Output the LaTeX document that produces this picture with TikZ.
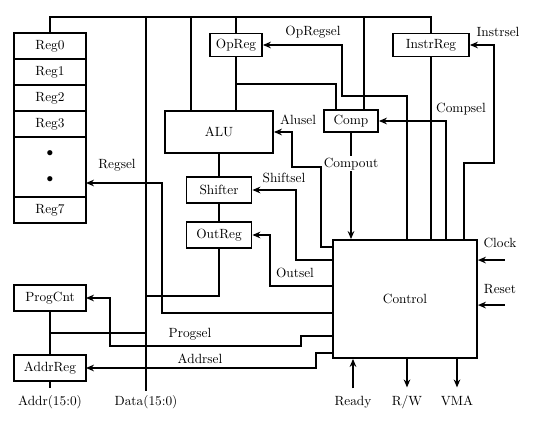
\documentclass[tikz,border=0pt]{standalone}
\usepackage{tikz}
\usetikzlibrary{positioning,arrows.meta,calc}
\tikzset{
    base/.style={font=\normalsize, align=center},
    block/.style={base, rectangle, draw, line width=1.4pt, inner sep=1pt},
    regcell/.style={block, outer sep=0pt, minimum width=54pt, minimum height=19.5pt},
    wire/.style={line width=1.4pt},
    sel/.style={wire, -{Stealth[length=6pt,width=5pt,inset=2pt]}},
    sigtext/.style={base, inner sep=1pt, text height=7pt, text depth=2pt}
}

\begin{document}
\begin{tikzpicture}[x=0.75pt, y=-0.75pt]
  \useasboundingbox (0,0) rectangle (542,432);

  % Register file
  \node[regcell] (reg0) at (50,46) {Reg0};
  \node[regcell, below=0pt of reg0] (reg1) {Reg1};
  \node[regcell, below=0pt of reg1] (reg2) {Reg2};
  \node[regcell, below=0pt of reg2] (reg3) {Reg3};
  \node[regcell, below=0pt of reg3, minimum height=45pt] (regdots) {$\bullet$\\[7.5pt]$\bullet$};
  \node[regcell, below=0pt of regdots] (reg7) {Reg7};

  % Datapath blocks
  \node[block, minimum width=39pt, minimum height=17.25pt] (opreg) at (236,45) {OpReg};
  \node[block, minimum width=57pt, minimum height=17.25pt] (instrreg) at (431,45) {InstrReg};
  \node[block, minimum width=81pt, minimum height=31.5pt] (alu) at (219,132) {ALU};
  \node[block, minimum width=40.5pt, minimum height=16.5pt] (comp) at (351,121) {Comp};
  \node[block, minimum width=48.75pt, minimum height=19.5pt] (shifter) at (219,190) {Shifter};
  \node[block, minimum width=48.75pt, minimum height=19.5pt] (outreg) at (219,235) {OutReg};
  \node[block, minimum width=108pt, minimum height=88.5pt] (control) at (405,299) {Control};
  \node[regcell] (progcnt) at (50,298) {ProgCnt};
  \node[regcell] (addrreg) at (50,368) {AddrReg};

  % Pins
  \node[sigtext] (addr) at (50,402) {Addr(15:0)};
  \node[sigtext] (data) at (146,402) {Data(15:0)};
  \node[sigtext] (ready) at (353,402) {Ready};
  \node[sigtext] (rw) at (407,402) {R/W};
  \node[sigtext] (vma) at (457,402) {VMA};
  \node[sigtext] (clock) at (500,244) {Clock};
  \node[sigtext] (reset) at (500,290) {Reset};

  % Signal names
  \node[sigtext] (opregsel) at (313,32) {OpRegsel};
  \node[sigtext] (instrsel) at (498,33) {Instrsel};
  \node[sigtext] (compsel) at (461,109) {Compsel};
  \node[sigtext] (alusel) at (298,121) {Alusel};
  \node[sigtext] (shiftsel) at (284,179) {Shiftsel};
  \node[sigtext] (outsel) at (295,274) {Outsel};
  \node[sigtext] (regsel) at (117,165) {Regsel};
  \node[sigtext] (progsel) at (190,334) {Progsel};
  \node[sigtext] (addrsel) at (200,360) {Addrsel};

  % Data bus
  \coordinate (dtop) at (146,17);
  \coordinate (dbus1) at (146,296);
  \coordinate (dbus2) at (146,333);
  \coordinate (aluin) at ($(alu.north)+(-28,0)$);
  \coordinate (compin) at ($(comp.north)+(13,0)$);
  \draw[wire] (reg0.north) |- (instrreg.north |- dtop) -- (instrreg.north);
  \draw[wire] (dtop) -- ($(data.north)+(0,-3)$);
  \draw[wire] (aluin) -- (aluin |- dtop);
  \draw[wire] (compin) -- (compin |- dtop);
  \draw[wire] (opreg.north) -- (opreg.north |- dtop);
  \draw[wire] (opreg.south) -- (opreg.south |- alu.north);
  \draw[wire] ($(opreg.south)+(0,26.6)$) -| ($(comp.north)+(-15,0)$);
  \draw[wire] (instrreg.south) -- (instrreg.south |- control.north);
  \draw[wire] (alu.south) -- (shifter.north);
  \draw[wire] (shifter.south) -- (outreg.north);
  \draw[wire] (outreg.south) |- (dbus1);
  \draw[wire] (progcnt.south) -- (addrreg.north);
  \draw[wire] ($(progcnt.south)+(0,22)$) -- (dbus2);
  \draw[wire] (addrreg.south) -- ($(addr.north)+(0,-6)$);

  % Select lines
  \draw[sel] (comp.south) -- node[sigtext, fill=white, pos=0.29] (compout) {Compout} (comp.south |- control.north);
  \draw[sel] ($(control.north)+(41,0)$) |- (comp.east);
  \draw[sel] ($(control.north)+(59,0)$) |- ++(30,-76) |- (instrreg.east);
  \draw[sel] ($(control.north)+(2,0)$) |- ++(-65,-143) |- (opreg.east);
  \draw[sel] ($(control.north west)+(0,8)$) -| ++(-11,-80) -- ++(-29,0) |- (alu.east);
  \draw[sel] ($(control.north west)+(0,21)$) -- ++(-36,0) |- (shifter.east);
  \draw[sel] ($(control.north west)+(0,47)$) -- ++(-62,0) |- (outreg.east);
  \draw[sel] ($(control.north west)+(0,74)$) -- ++(-170,0) |- ($(regdots.east)+(0,16)$);
  \draw[sel] ($(control.north west)+(0,97)$) -- ++(-31,0) -- ++(0,10) -- ++(-191,0) |- (progcnt.east);
  \draw[sel] ($(control.north west)+(0,114)$) -- ++(-16,0) |- (addrreg.east);

  % Control pins
  \draw[sel] ($(ready.north)+(0,-6)$) -- (ready.north |- control.south);
  \draw[sel] (rw.north |- control.south) -- ($(rw.north)+(0,-7)$);
  \draw[sel] (vma.north |- control.south) -- ($(vma.north)+(0,-7)$);
  \draw[sel] ($(control.north east)+(27,21)$) -- ($(control.north east)+(0,21)$);
  \draw[sel] ($(control.north east)+(27,66)$) -- ($(control.north east)+(0,66)$);
\end{tikzpicture}
\end{document}
